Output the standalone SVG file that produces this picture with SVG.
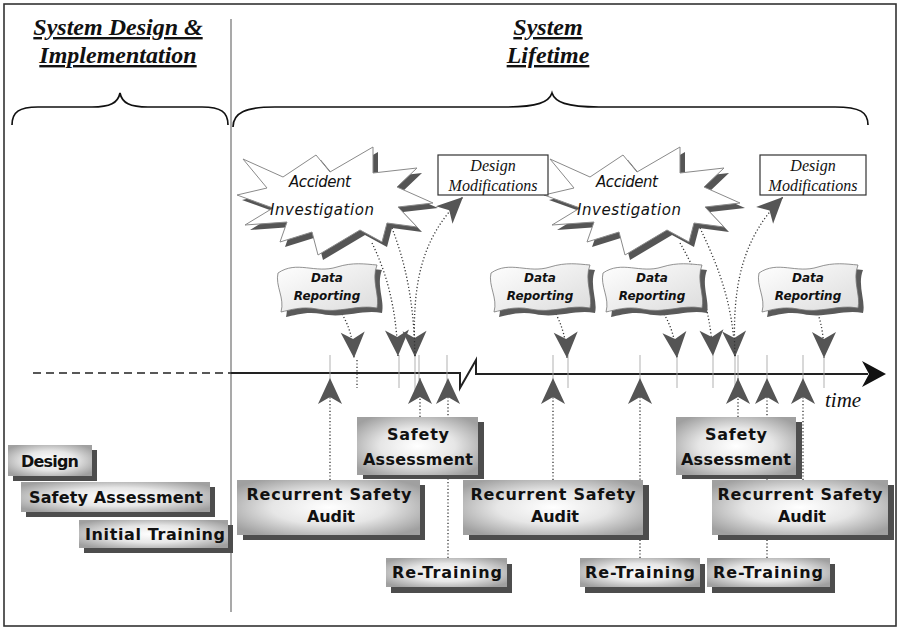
<svg xmlns="http://www.w3.org/2000/svg" width="898" height="630" viewBox="0 0 898 630">
  <defs>
    <style>
      .frame { fill: #ffffff; stroke: #333333; stroke-width: 1.6; }
      .sep { stroke: #8c8c8c; stroke-width: 1.5; }
      .hdr { font-family: "Liberation Serif", "Times New Roman", serif; font-weight: bold; font-style: italic; font-size: 24px; fill: #111111; text-anchor: middle; text-decoration: underline; }
      .brace { fill: none; stroke: #111111; stroke-width: 1.7; }
      .tl { fill: none; stroke: #222222; stroke-width: 2; }
      .tl-dash { fill: none; stroke: #222222; stroke-width: 1.5; stroke-dasharray: 8 5; }
      .tick { stroke: #a8a8a8; stroke-width: 0.9; }
      .dot { fill: none; stroke: #333333; stroke-width: 1.3; stroke-dasharray: 1.2 2.2; }
      .box { fill: url(#boxFill); }
      .shadow { fill: #4d4d4d; }
      .btxt { font-family: "Comic Sans MS", "DejaVu Sans", sans-serif; font-weight: bold; font-size: 16px; fill: #111111; text-anchor: middle; }
      .star { fill: #ffffff; stroke: #8a8a8a; stroke-width: 1; }
      .star-sh { fill: #555555; }
      .stxt { font-family: "Comic Sans MS", "DejaVu Sans", sans-serif; font-style: italic; font-size: 15px; fill: #111111; text-anchor: middle; }
      .flag { fill: url(#flagFill); stroke: #777777; stroke-width: 0.8; }
      .flag-sh { fill: #5a5a5a; }
      .ftxt { font-family: "Comic Sans MS", "DejaVu Sans", sans-serif; font-weight: bold; font-style: italic; font-size: 12px; fill: #111111; text-anchor: middle; }
      .dm { fill: #ffffff; stroke: #333333; stroke-width: 1.2; }
      .dmtxt { font-family: "Liberation Serif", "Times New Roman", serif; font-style: italic; font-size: 16px; fill: #111111; text-anchor: middle; }
      .time { font-family: "Liberation Serif", "Times New Roman", serif; font-style: italic; font-size: 21px; fill: #111111; }
    </style>
    <radialGradient id="boxFill" cx="0.5" cy="0.5" r="0.62">
      <stop offset="0" stop-color="#ffffff"/>
      <stop offset="0.5" stop-color="#e6e6e6"/>
      <stop offset="1" stop-color="#a0a0a0"/>
    </radialGradient>
    <linearGradient id="flagFill" x1="0" y1="0" x2="1" y2="1">
      <stop offset="0" stop-color="#ffffff"/>
      <stop offset="1" stop-color="#dcdcdc"/>
    </linearGradient>
    <marker id="head" viewBox="-1 -13 28 26" refX="26" refY="0" markerWidth="28" markerHeight="26" markerUnits="userSpaceOnUse" orient="auto">
      <path d="M0 -12 L26 0 L0 12 L7 0 Z" fill="#555555"/>
    </marker>
    <!-- starburst outline, centred on its own origin -->
    <path id="burst" d="M-95 -44 L-55 -26 L-22 -48 L-8 -31 L35 -56 L35 -30 L79 -35 L59 -16 L95 0 L60 4 L79 24 L49 20 L44 39 L22 27 L-20 52 L-26 29 L-58 39 L-51 19 L-93 22 L-65 5 L-101 -8 L-71 -15 Z"/>
    <!-- waving banner -->
    <path id="banner" d="M-49 -19 C-30 -32 -12 -18 10 -25 C26 -30 38 -28 50 -27 C44 -12 53 4 50 16 C30 12 12 22 -10 17 C-25 14 -37 18 -46 20 C-42 6 -52 -6 -49 -19 Z"/>
  </defs>

  <!-- outer frame -->
  <rect class="frame" x="4" y="4" width="892" height="622"/>
  <line class="sep" x1="231" y1="19" x2="231" y2="612"/>

  <!-- phase headings -->
  <g id="heading-design">
    <text class="hdr" x="118" y="35">System Design &amp;</text>
    <text class="hdr" x="118" y="63">Implementation</text>
    <path class="brace" d="M12 125 C12 112 19 107 38 107 L92 107 C110 107 118 103 120 93 C122 103 130 107 148 107 L202 107 C221 107 228 112 228 125"/>
  </g>
  <g id="heading-lifetime">
    <text class="hdr" x="548" y="35">System</text>
    <text class="hdr" x="548" y="63">Lifetime</text>
    <path class="brace" d="M233 127 C233 113 245 107 275 107 L505 107 C538 107 549 102 552 93 C555 102 566 107 599 107 L835 107 C860 107 868 112 868 125"/>
  </g>

  <!-- time axis -->
  <g id="timeline">
    <line class="tl-dash" x1="33" y1="373" x2="231" y2="373"/>
    <path class="tl" d="M231 373 L460 373 L460 388 L476 360 L476 374 L868 374"/>
    <path d="M886 374 L862 361 L869 374 L862 387 Z" fill="#111111"/>
    <text class="time" x="825" y="407">time</text>
  </g>

  <!-- connectors -->
  <g id="connectors">
    <g class="ticks">
      <line class="tick" x1="330" y1="355" x2="330" y2="392"/>
      <line class="tick" x1="399" y1="355" x2="399" y2="388"/>
      <line class="tick" x1="415" y1="355" x2="415" y2="392"/>
      <line class="tick" x1="419" y1="355" x2="419" y2="392"/>
      <line class="tick" x1="447" y1="355" x2="447" y2="392"/>
      <line class="tick" x1="553" y1="355" x2="553" y2="392"/>
      <line class="tick" x1="568" y1="355" x2="568" y2="388"/>
      <line class="tick" x1="640" y1="355" x2="640" y2="392"/>
      <line class="tick" x1="677" y1="355" x2="677" y2="388"/>
      <line class="tick" x1="713" y1="355" x2="713" y2="388"/>
      <line class="tick" x1="735" y1="355" x2="735" y2="392"/>
      <line class="tick" x1="738" y1="355" x2="738" y2="392"/>
      <line class="tick" x1="767" y1="355" x2="767" y2="392"/>
      <line class="tick" x1="803" y1="355" x2="803" y2="392"/>
      <line class="tick" x1="824" y1="355" x2="824" y2="388"/>
      <line class="dot" x1="357" y1="360" x2="357" y2="388"/>
    </g>
    <!-- upward: activities feeding the timeline -->
    <path class="dot" marker-end="url(#head)" d="M330 480 L330 378"/>
    <path class="dot" marker-end="url(#head)" d="M420 417 L420 378"/>
    <path class="dot" marker-end="url(#head)" d="M448 558 L448 378"/>
    <path class="dot" marker-end="url(#head)" d="M553 480 L553 378"/>
    <path class="dot" marker-end="url(#head)" d="M640 558 L640 378"/>
    <path class="dot" marker-end="url(#head)" d="M738 417 L738 378"/>
    <path class="dot" marker-end="url(#head)" d="M767 558 L767 378"/>
    <path class="dot" marker-end="url(#head)" d="M803 480 L803 378"/>
    <!-- downward: reports and investigations -->
    <path class="dot" marker-end="url(#head)" d="M342 314 C349 326 353 338 354 358"/>
    <path class="dot" marker-end="url(#head)" d="M372 243 C386 272 396 305 398 356"/>
    <path class="dot" marker-end="url(#head)" d="M392 228 C405 262 414 300 415 357"/>
    <path class="dot" marker-end="url(#head)" d="M415 356 C412 290 418 240 463 197"/>
    <path class="dot" marker-end="url(#head)" d="M556 314 C562 326 566 338 567 358"/>
    <path class="dot" marker-end="url(#head)" d="M664 314 C671 326 675 338 677 358"/>
    <path class="dot" marker-end="url(#head)" d="M680 243 C697 272 710 305 713 356"/>
    <path class="dot" marker-end="url(#head)" d="M700 228 C716 262 733 300 735 357"/>
    <path class="dot" marker-end="url(#head)" d="M735 356 C732 290 740 240 783 197"/>
    <path class="dot" marker-end="url(#head)" d="M818 314 C822 326 824 338 824 358"/>
  </g>

  <!-- accident investigations -->
  <g id="accident-investigation-1">
    <use href="#burst" class="star-sh" transform="translate(343 208)"/>
    <use href="#burst" class="star" transform="translate(338 203)"/>
    <text class="stxt" x="320" y="187" textLength="62">Accident</text>
    <text class="stxt" x="322" y="215" textLength="104">Investigation</text>
  </g>
  <g id="accident-investigation-2">
    <use href="#burst" class="star-sh" transform="translate(650 208)"/>
    <use href="#burst" class="star" transform="translate(645 203)"/>
    <text class="stxt" x="627" y="187" textLength="62">Accident</text>
    <text class="stxt" x="629" y="215" textLength="104">Investigation</text>
  </g>

  <!-- design modifications -->
  <g id="design-mod-1">
    <rect class="dm" x="438" y="155" width="110" height="40"/>
    <text class="dmtxt" x="493" y="171">Design</text>
    <text class="dmtxt" x="493" y="191">Modifications</text>
  </g>
  <g id="design-mod-2">
    <rect class="dm" x="760" y="155" width="106" height="40"/>
    <text class="dmtxt" x="813" y="171">Design</text>
    <text class="dmtxt" x="813" y="191">Modifications</text>
  </g>

  <!-- data reporting -->
  <g id="data-reporting-1">
    <use href="#banner" class="flag-sh" transform="translate(332 297)"/>
    <use href="#banner" class="flag" transform="translate(327 292)"/>
    <text class="ftxt" x="327" y="282">Data</text>
    <text class="ftxt" x="327" y="300">Reporting</text>
  </g>
  <g id="data-reporting-2">
    <use href="#banner" class="flag-sh" transform="translate(545 297)"/>
    <use href="#banner" class="flag" transform="translate(540 292)"/>
    <text class="ftxt" x="540" y="282">Data</text>
    <text class="ftxt" x="540" y="300">Reporting</text>
  </g>
  <g id="data-reporting-3">
    <use href="#banner" class="flag-sh" transform="translate(657 297)"/>
    <use href="#banner" class="flag" transform="translate(652 292)"/>
    <text class="ftxt" x="652" y="282">Data</text>
    <text class="ftxt" x="652" y="300">Reporting</text>
  </g>
  <g id="data-reporting-4">
    <use href="#banner" class="flag-sh" transform="translate(813 297)"/>
    <use href="#banner" class="flag" transform="translate(808 292)"/>
    <text class="ftxt" x="808" y="282">Data</text>
    <text class="ftxt" x="808" y="300">Reporting</text>
  </g>

  <!-- design & implementation phase activities -->
  <g id="design">
    <rect class="shadow" x="13" y="450" width="84" height="31"/>
    <rect class="box" x="8" y="445" width="84" height="31"/>
    <text class="btxt" x="50" y="467" textLength="58">Design</text>
  </g>
  <g id="safety-assessment-0">
    <rect class="shadow" x="26" y="487" width="189" height="30"/>
    <rect class="box" x="21" y="482" width="189" height="30"/>
    <text class="btxt" x="116" y="503" textLength="174">Safety Assessment</text>
  </g>
  <g id="initial-training">
    <rect class="shadow" x="84" y="525" width="149" height="28"/>
    <rect class="box" x="79" y="520" width="149" height="28"/>
    <text class="btxt" x="155" y="540" textLength="140">Initial Training</text>
  </g>

  <!-- lifetime activities -->
  <g id="safety-assessment-1">
    <rect class="shadow" x="363" y="422" width="121" height="57"/>
    <rect class="box" x="357" y="417" width="121" height="58"/>
    <text class="btxt" x="418" y="440" textLength="62">Safety</text>
    <text class="btxt" x="418" y="465" textLength="110">Assessment</text>
  </g>
  <g id="recurrent-audit-1">
    <rect class="shadow" x="243" y="485" width="182" height="55"/>
    <rect class="box" x="237" y="480" width="183" height="55"/>
    <text class="btxt" x="329" y="500" textLength="165">Recurrent Safety</text>
    <text class="btxt" x="331" y="522" textLength="48">Audit</text>
  </g>
  <g id="retraining-1">
    <rect class="shadow" x="391" y="564" width="121" height="29"/>
    <rect class="box" x="386" y="558" width="121" height="29"/>
    <text class="btxt" x="447" y="578" textLength="110">Re-Training</text>
  </g>
  <g id="recurrent-audit-2">
    <rect class="shadow" x="469" y="485" width="180" height="55"/>
    <rect class="box" x="463" y="480" width="180" height="55"/>
    <text class="btxt" x="553" y="500" textLength="165">Recurrent Safety</text>
    <text class="btxt" x="555" y="522" textLength="48">Audit</text>
  </g>
  <g id="retraining-2">
    <rect class="shadow" x="585" y="564" width="120" height="29"/>
    <rect class="box" x="580" y="558" width="120" height="29"/>
    <text class="btxt" x="640" y="578" textLength="110">Re-Training</text>
  </g>
  <g id="safety-assessment-2">
    <rect class="shadow" x="682" y="422" width="120" height="57"/>
    <rect class="box" x="676" y="417" width="120" height="58"/>
    <text class="btxt" x="736" y="440" textLength="62">Safety</text>
    <text class="btxt" x="736" y="465" textLength="110">Assessment</text>
  </g>
  <g id="retraining-3">
    <rect class="shadow" x="712" y="564" width="123" height="29"/>
    <rect class="box" x="707" y="558" width="123" height="29"/>
    <text class="btxt" x="768" y="578" textLength="110">Re-Training</text>
  </g>
  <g id="recurrent-audit-3">
    <rect class="shadow" x="718" y="485" width="176" height="55"/>
    <rect class="box" x="712" y="480" width="176" height="55"/>
    <text class="btxt" x="800" y="500" textLength="165">Recurrent Safety</text>
    <text class="btxt" x="802" y="522" textLength="48">Audit</text>
  </g>
</svg>
